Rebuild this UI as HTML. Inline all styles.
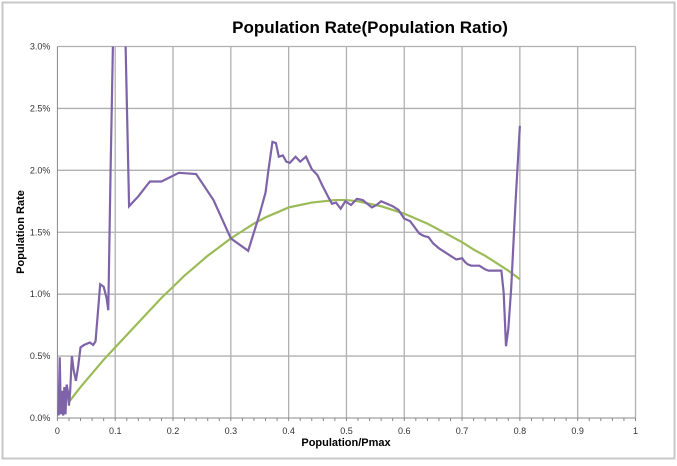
<!DOCTYPE html>
<html><head><meta charset="utf-8"><style>
body{margin:0;background:#fff;font-family:"Liberation Sans",sans-serif}
#wrap{position:absolute;left:0;top:0;width:677px;height:461px}
</style></head><body>
<div id="wrap">
<svg id="svg" width="677" height="461" xmlns="http://www.w3.org/2000/svg">
<rect x="2.5" y="2.5" width="672" height="456" fill="#fff" stroke="#c8c8c8" stroke-width="2"/>
<text x="370" y="33" text-anchor="middle" font-size="17" font-weight="bold" fill="#000">Population Rate(Population Ratio)</text>
<text x="24" y="232" text-anchor="middle" font-size="11" font-weight="bold" transform="rotate(-90 24 232)">Population Rate</text>
<text x="346" y="446" text-anchor="middle" font-size="11" font-weight="bold">Population/Pmax</text>
<g id="grid"></g><g id="ticks"></g><g id="series"></g>
</svg>
</div>
<script>
const xTicks=[0,0.1,0.2,0.3,0.4,0.5,0.6,0.7,0.8,0.9,1];
const xTickLabels=["0","0.1","0.2","0.3","0.4","0.5","0.6","0.7","0.8","0.9","1"];
const yTicks=[0,0.005,0.01,0.015,0.02,0.025,0.03];
const yTickLabels=["0.0%","0.5%","1.0%","1.5%","2.0%","2.5%","3.0%"];
const rateX=[0.002,0.004,0.006,0.008,0.01,0.012,0.014,0.016,0.018,0.02,0.022,0.025,0.028,0.032,0.036,0.04,0.046,0.056,0.062,0.066,0.07,0.074,0.08,0.085,0.088,0.092,0.096,0.1,0.118,0.124,0.14,0.16,0.18,0.21,0.24,0.27,0.3,0.33,0.35,0.36,0.365,0.372,0.378,0.383,0.39,0.396,0.402,0.412,0.42,0.43,0.44,0.45,0.458,0.468,0.475,0.482,0.49,0.498,0.508,0.518,0.528,0.536,0.544,0.552,0.56,0.57,0.58,0.59,0.6,0.61,0.618,0.626,0.634,0.642,0.65,0.66,0.67,0.68,0.69,0.7,0.705,0.71,0.716,0.722,0.73,0.74,0.746,0.752,0.76,0.768,0.772,0.776,0.78,0.785,0.792,0.8];
const rateY=[0.0002,0.0049,0.0003,0.0022,0.0002,0.0025,0.0003,0.0027,0.0022,0.001,0.0021,0.005,0.0039,0.003,0.0042,0.0057,0.0059,0.0061,0.0059,0.0062,0.0085,0.0108,0.0106,0.0097,0.0087,0.02,0.03,0.034,0.03,0.0171,0.0179,0.0191,0.0191,0.0198,0.0197,0.0176,0.0145,0.0135,0.0165,0.0182,0.02,0.0223,0.0222,0.0211,0.0212,0.0207,0.0206,0.0211,0.0207,0.0211,0.0201,0.0196,0.0188,0.0179,0.0173,0.0174,0.0169,0.0175,0.0172,0.0177,0.0176,0.0173,0.017,0.0172,0.0175,0.0173,0.0171,0.0168,0.0161,0.0159,0.0154,0.0149,0.0147,0.0146,0.0141,0.0137,0.0134,0.0131,0.0128,0.0129,0.0126,0.0124,0.0123,0.0123,0.0123,0.012,0.0119,0.0119,0.0119,0.0119,0.0101,0.0058,0.0072,0.0105,0.017,0.0236];
const fitX=[0.02,0.04,0.06,0.08,0.1,0.12,0.14,0.16,0.18,0.2,0.22,0.24,0.26,0.28,0.3,0.32,0.34,0.36,0.38,0.4,0.42,0.44,0.46,0.48,0.5,0.52,0.54,0.56,0.58,0.6,0.62,0.64,0.66,0.68,0.7,0.72,0.74,0.76,0.78,0.8];
const fitY=[0.0013,0.0025,0.0036,0.0047,0.0057,0.0067,0.0077,0.0087,0.0097,0.0106,0.0115,0.0123,0.0131,0.0138,0.0145,0.0151,0.0157,0.0162,0.0166,0.017,0.0172,0.0174,0.0175,0.0176,0.0176,0.0175,0.0173,0.0171,0.0168,0.0165,0.0161,0.0157,0.0152,0.0147,0.0142,0.0136,0.0131,0.0125,0.0119,0.0112];
const X0=57.4,X1=635.5,Y0=418,Y1=46.5;
function sx(v){return X0+(X1-X0)*v;}
function sy(v){return Y0-(Y0-Y1)*v/0.03;}
const NS="http://www.w3.org/2000/svg";
function mk(t,a,p){const e=document.createElementNS(NS,t);for(const k in a)e.setAttribute(k,a[k]);p.appendChild(e);return e;}
const grid=document.getElementById('grid'),ticks=document.getElementById('ticks'),ser=document.getElementById('series');
xTicks.forEach((v,i)=>{
 if(i>0){const l=mk('line',{x1:sx(v),x2:sx(v),y1:Y1,y2:Y0,stroke:'#b0b0b0','stroke-width':1.3},grid);
 
 }
 const t=mk('text',{x:sx(v),y:Y0+16,'text-anchor':'middle','font-size':9,fill:'#333'},ticks);t.textContent=xTickLabels[i];
 
 
});
yTicks.forEach((v,i)=>{
 if(i>0){const l=mk('line',{x1:X0,x2:X1,y1:sy(v),y2:sy(v),stroke:'#b0b0b0','stroke-width':1.3},grid);
 
 }
 const t=mk('text',{x:X0-7,y:sy(v)+3,'text-anchor':'end','font-size':9,fill:'#333'},ticks);t.textContent=yTickLabels[i];
 
 
});
const ax=mk('path',{d:`M${X0},${Y1}V${Y0}H${X1}`,fill:'none',stroke:'#888','stroke-width':1},grid);


for(let k=0;k<=50;k++){mk('line',{x1:sx(k/50),x2:sx(k/50),y1:Y0,y2:Y0+3,stroke:'#888'},grid);}
const clip=mk('clipPath',{id:'pc'},document.getElementById('svg'));mk('rect',{x:X0,y:Y1,width:X1-X0,height:Y0-Y1},clip);
const fp=mk('polyline',{points:fitX.map((x,i)=>sx(x)+','+sy(fitY[i])).join(' '),fill:'none',stroke:'#9bbb59','stroke-width':2.2},ser);


const rp=mk('polyline',{points:rateX.map((x,i)=>sx(x)+','+sy(rateY[i])).join(' '),fill:'none',stroke:'#7f63a8','stroke-width':2.2,'clip-path':'url(#pc)'},ser);


</script>
</body></html>
